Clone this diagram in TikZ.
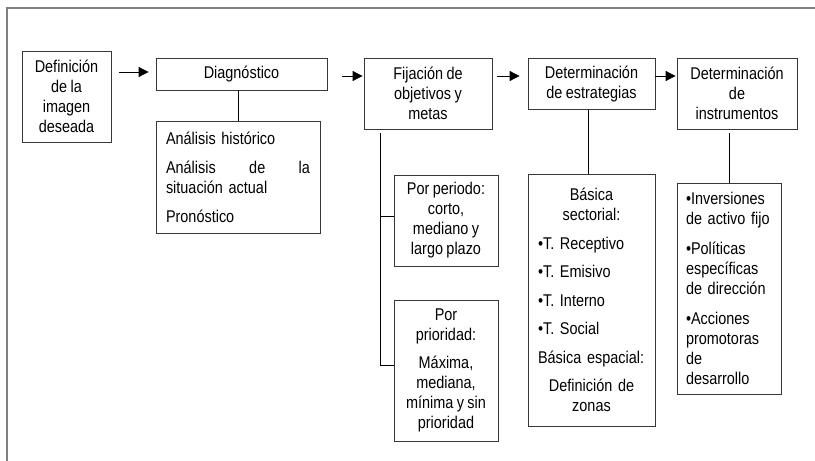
\documentclass[tikz,border=0pt]{standalone}
\usepackage{fontspec}
\setmainfont{Liberation Sans}[FakeStretch=0.85]
\usetikzlibrary{arrows.meta}
\frenchspacing
\newcommand\fsz{\fontsize{17}{20}\selectfont\frenchspacing\fontdimen2\font=3.4pt}
\newcommand\ctrline[2]{\leavevmode\hbox to #1{\hfil #2\hfil}}
\begin{document}
\begin{tikzpicture}[x=1pt,y=-1pt,
  box/.style={draw=black!78, line width=0.8pt, inner sep=0pt, align=center, font=\fsz},
  ln/.style={draw=black, line width=0.8pt},
  arr/.style={draw=black, line width=0.8pt, -{Triangle[length=10pt,width=10pt]}},
  frame/.style={draw=black!50, line width=1.3pt}]
\useasboundingbox (0,0) rectangle (815,461);
\draw[frame] (7,461) -- (7,8) -- (815,8);

\node[box, minimum width=89, minimum height=91] (b1) at (66.5,96.5) {Definición\\de la\\imagen\\deseada};
\node[box, minimum width=171, minimum height=32] (b2) at (241.5,74) {Diagnóstico};
\node[box, minimum width=164, minimum height=112, inner xsep=10pt, text width=144pt, align=left] (an) at (238,177)
  {Análisis histórico\\[9pt]\leavevmode\hbox to 144pt{Análisis\hfill de\hfill la}\\situación actual\\[9pt]Pronóstico};
\node[box, minimum width=128, minimum height=71] (fij) at (428,93.5) {Fijación de\\objetivos y\\metas};
\node[box, minimum width=104, minimum height=91] (per) at (446,220.5) {Por periodo:\\corto,\\mediano y\\largo plazo};
\node[box, minimum width=104, minimum height=141] (pri) at (446,370.5) {Por\\prioridad:\\[8pt]Máxima,\\mediana,\\mínima y sin\\prioridad};
\node[box, minimum width=127, minimum height=51] (est) at (591.5,83.7) {Determinación\\de estrategias};
\node[box, minimum width=127, minimum height=252, inner xsep=10pt, text width=107pt, align=left] (bas) at (591.5,300)
  {\ctrline{107pt}{Básica}\\\ctrline{107pt}{sectorial:}\\[8.5pt]•T. Receptivo\\[8.5pt]•T. Emisivo\\[8.5pt]•T. Interno\\[8.5pt]•T. Social\\[8.5pt]Básica espacial:\\[8.5pt]\ctrline{107pt}{Definición de}\\\ctrline{107pt}{zonas}};
\node[box, minimum width=120, minimum height=71] (inst) at (737,93.5) {Determinación\\de\\instrumentos};
\node[box, minimum width=104, minimum height=211, inner xsep=9pt, text width=86pt, align=left] (inv) at (729,288.5)
  {•Inversiones\\de activo fijo\\[10pt]•Políticas\\específicas\\de dirección\\[10pt]•Acciones\\promotoras\\de\\desarrollo};

\draw[arr, shorten <=8pt, shorten >=7pt] (b1.east |- 0,72) -- (b2.west |- 0,72);
\draw[arr, shorten <=15pt, shorten >=1pt] (b2.east |- 0,76) -- (fij.west |- 0,76);
\draw[arr, shorten <=5pt, shorten >=8pt] (fij.east |- 0,76) -- (est.west |- 0,76);
\draw[arr, shorten >=1pt] (est.east |- 0,76) -- (inst.west |- 0,76);

\draw[ln] (an.north |- b2.south) -- (an.north);
\coordinate (ft) at (380,133);
\draw[ln] (ft) -- (ft |- 0,365) -- (pri.west |- 0,365);
\draw[ln] (ft |- 0,216) -- (per.west |- 0,216);
\draw[ln] (est.south -| 588,0) -- (bas.north -| 588,0);
\draw[ln] (inv.north |- 0,133) -- (inv.north);
\end{tikzpicture}
\end{document}
